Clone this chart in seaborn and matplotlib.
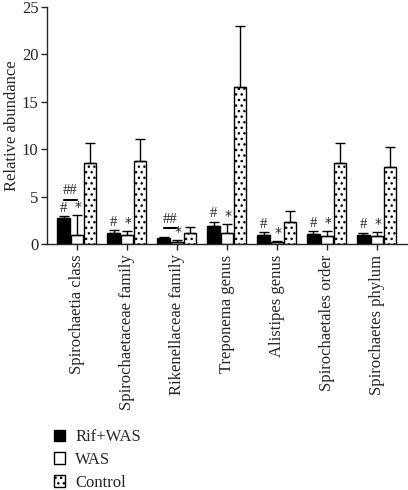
"""Relative abundance of gut taxa by treatment group"""
import pandas as pd
import matplotlib.pyplot as plt
import seaborn as sns
from matplotlib.patches import Patch

sns.set_style("ticks")
plt.rcParams['font.family'] = ['Liberation Serif', 'DejaVu Serif']
plt.rcParams['hatch.linewidth'] = 1.0

# Data
taxa = ['Spirochaetia class', 'Spirochaetaceae family', 'Rikenellaceae family',
        'Treponema genus', 'Alistipes genus', 'Spirochaetales order',
        'Spirochaetes phylum']
groups = ['Rif+WAS', 'WAS', 'Control']
rif_was = [2.7, 1.2, 0.6, 1.9, 1.0, 1.1, 1.0]
was = [1.0, 0.9, 0.25, 1.2, 0.2, 0.85, 0.8]
control = [8.5, 8.8, 1.15, 16.5, 2.3, 8.5, 8.1]
rif_was_err = [0.25, 0.25, 0.1, 0.45, 0.25, 0.25, 0.2]
was_err = [2.1, 0.5, 0.15, 0.9, 0.1, 0.55, 0.5]
control_err = [2.2, 2.3, 0.65, 6.5, 1.2, 2.2, 2.1]
rif_marks = ['#', '#', '', '#', '#', '#', '#']
was_marks = ['*', '*', '*', '*', '*', '*', '*']
bracket_levels = {0: 4.65, 2: 1.65}   # "##" Rif+WAS vs WAS

df = pd.DataFrame({
    'taxon': taxa * 3,
    'group': [g for g in groups for _ in taxa],
    'value': rif_was + was + control,
})
errs = rif_was_err + was_err + control_err

fig, ax = plt.subplots(figsize=(4.08, 4.90), dpi=100)
fig.subplots_adjust(left=0.115, right=0.997, top=0.986, bottom=0.502)

sns.barplot(data=df, x='taxon', y='value', hue='group', hue_order=groups,
            palette=['black', 'white', 'white'], edgecolor='black',
            linewidth=1.0, width=0.8, gap=0.08, legend=False, ax=ax)

bars = ax.patches
for i, bar in enumerate(bars):
    if i >= 2 * len(taxa):
        bar.set_hatch('...')
    xc = bar.get_x() + bar.get_width() / 2
    h = bar.get_height()
    ax.errorbar(xc, h, yerr=[[0], [errs[i]]], fmt='none', ecolor='black',
                elinewidth=1.0, capsize=3.5, capthick=1.0)

# significance marks
for j in range(len(taxa)):
    b0 = bars[j]
    b1 = bars[len(taxa) + j]
    x0 = b0.get_x() + b0.get_width() / 2
    x1 = b1.get_x() + b1.get_width() / 2
    if rif_marks[j]:
        ax.text(x0, rif_was[j] + rif_was_err[j] + 0.15, rif_marks[j],
                ha='center', va='bottom', fontsize=10.5)
    ax.text(x1 + 0.02, was[j] + was_err[j] + 0.1, was_marks[j],
            ha='center', va='bottom', fontsize=10, family='DejaVu Sans')
    if j in bracket_levels:
        y = bracket_levels[j]
        ax.plot([x0, x1], [y, y], color='black', lw=1.5)
        ax.text((x0 + x1) / 2, y + 0.3, '##', ha='center', va='bottom',
                fontsize=10.5)

ax.set_ylim(0, 25)
ax.set_yticks([0, 5, 10, 15, 20, 25])
ax.set_xlim(-0.6, 6.6)
ax.set_xlabel('')
ax.set_ylabel('Relative abundance', fontsize=12, labelpad=1)
ax.tick_params(axis='y', labelsize=12, length=4, width=1, pad=2)
ax.tick_params(axis='x', labelsize=12, length=4, width=1, rotation=90)
for s in ['left', 'bottom']:
    ax.spines[s].set_linewidth(1.0)
sns.despine(ax=ax)

handles = [Patch(facecolor='black', edgecolor='black', label='Rif+WAS'),
           Patch(facecolor='white', edgecolor='black', label='WAS'),
           Patch(facecolor='white', edgecolor='black', hatch='...', label='Control')]
fig.legend(handles=handles, loc='lower left', bbox_to_anchor=(0.095, -0.032),
           frameon=False, fontsize=12, handlelength=0.7, handleheight=0.7,
           handletextpad=0.6, labelspacing=0.4)

plt.savefig('out.png', dpi=100)
